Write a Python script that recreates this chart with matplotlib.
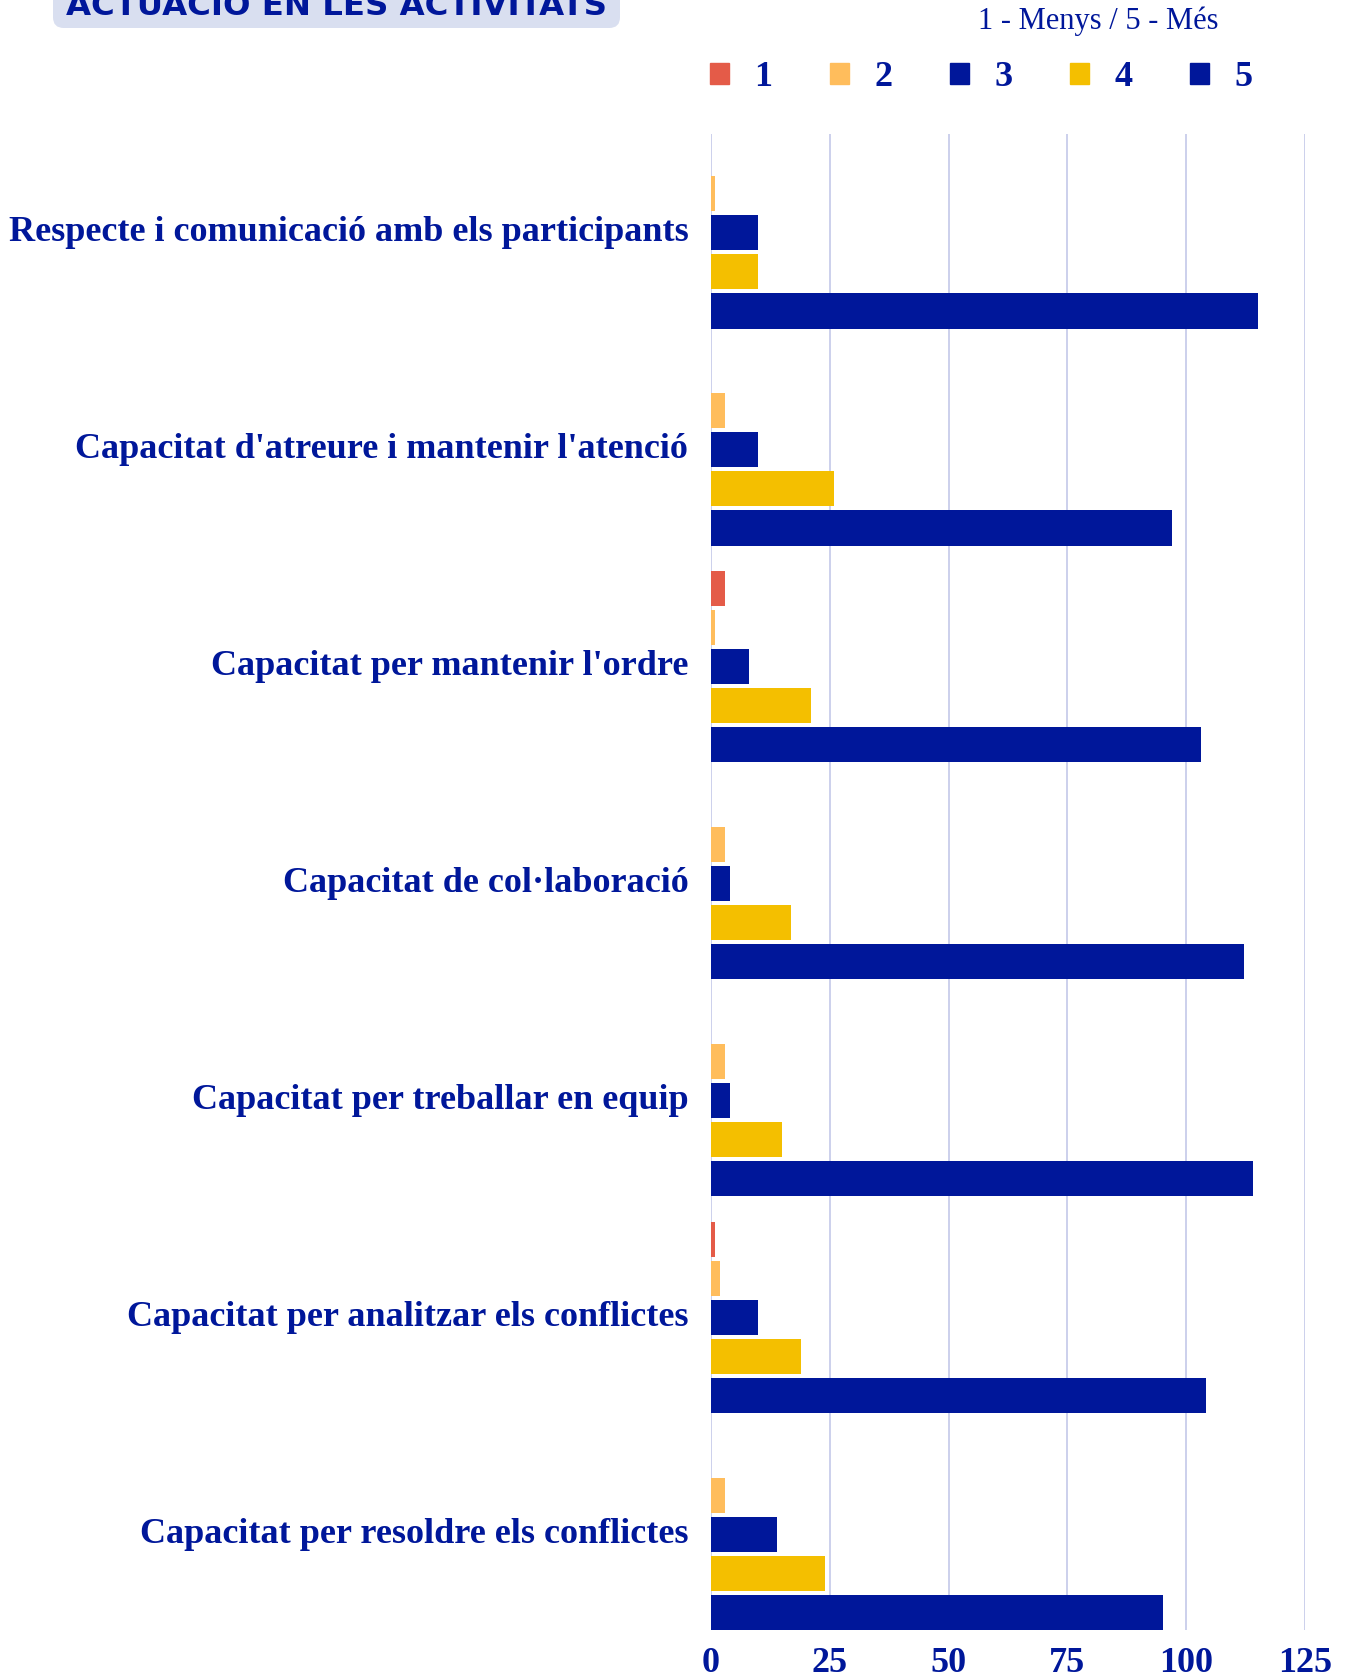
import numpy as np
import matplotlib
matplotlib.use("Agg")
import matplotlib.pyplot as plt
import matplotlib.transforms as mtransforms
from matplotlib.patches import FancyBboxPatch, Patch

# data
categories = [
    "Respecte i comunicació amb els participants",
    "Capacitat d'atreure i mantenir l'atenció",
    "Capacitat per mantenir l'ordre",
    "Capacitat de col·laboració",
    "Capacitat per treballar en equip",
    "Capacitat per analitzar els conflictes",
    "Capacitat per resoldre els conflictes",
]
score_1 = [0, 0, 3, 0, 0, 1, 0]
score_2 = [1, 3, 1, 3, 3, 2, 3]
score_3 = [10, 10, 8, 4, 4, 10, 14]
score_4 = [10, 26, 21, 17, 15, 19, 24]
score_5 = [115, 97, 103, 112, 114, 104, 95]
series_names = ["1", "2", "3", "4", "5"]
x_ticks = [0, 25, 50, 75, 100, 125]

navy = "#00179A"
colors = ["#E45B48", "#FFBD5C", "#00179A", "#F4BF00", "#00179A"]
grid_c = "#C8CDEA"
serif = "Liberation Serif"

fig = plt.figure(figsize=(13.45, 16.77), dpi=100)
ax = fig.add_axes([0.5283, 0.028, 0.4423, 0.892])

series = [score_1, score_2, score_3, score_4, score_5]
y = np.arange(len(categories))
slot = 0.18
bh = 0.162
for i, vals in enumerate(series):
    ax.barh(y + (i - 2) * slot, vals, height=bh, color=colors[i],
            linewidth=0, zorder=3)

ax.set_xlim(0, 125)
ax.set_ylim(6.44, -0.455)
ax.set_xticks(x_ticks)
ax.set_xticklabels([str(t) for t in x_ticks], fontsize=26, fontweight="bold",
                   family=serif, color=navy)
ax.set_yticks(y)
ax.set_yticklabels(categories, fontsize=26, fontweight="bold",
                   family=serif, color=navy)
ax.tick_params(axis="x", length=0, pad=12)
ax.tick_params(axis="y", length=0, pad=16)
ax.grid(axis="x", color=grid_c, linewidth=1.3, zorder=0)
for s in ax.spines.values():
    s.set_visible(False)

# nudge category labels up a little
shift = mtransforms.ScaledTranslation(0, 4 / 100, fig.dpi_scale_trans)
for lbl in ax.get_yticklabels():
    lbl.set_transform(lbl.get_transform() + shift)

# legend
handles = [Patch(facecolor=c, edgecolor=c) for c in colors]
leg = fig.legend(handles, series_names, ncol=5, loc="center",
                 bbox_to_anchor=(0.7296, 0.9536), frameon=False,
                 prop={"family": serif, "weight": "bold", "size": 26},
                 handlelength=0.52, handleheight=0.52, handletextpad=0.7,
                 columnspacing=1.6)
for t in leg.get_texts():
    t.set_color(navy)

fig.text(0.8164, 1 - 21 / 1677, "1 - Menys / 5 - Més", ha="center", va="center",
         fontsize=22, family=serif, color=navy)

# title box, cut off at the top edge
box = FancyBboxPatch((53 / 1345, 1 - 28 / 1677), (620 - 53) / 1345, 0.05,
                     boxstyle="round,pad=0,rounding_size=0.008",
                     transform=fig.transFigure, facecolor="#D9DFF0",
                     edgecolor="none", mutation_aspect=1345 / 1677)
fig.patches.append(box)
fig.text(336 / 1345, 1 - 15 / 1677, "ACTUACIÓ EN LES ACTIVITATS", ha="center",
         va="baseline", fontsize=23.3, fontweight="heavy", family="DejaVu Sans",
         color=navy)

fig.savefig("out.png", dpi=100)
